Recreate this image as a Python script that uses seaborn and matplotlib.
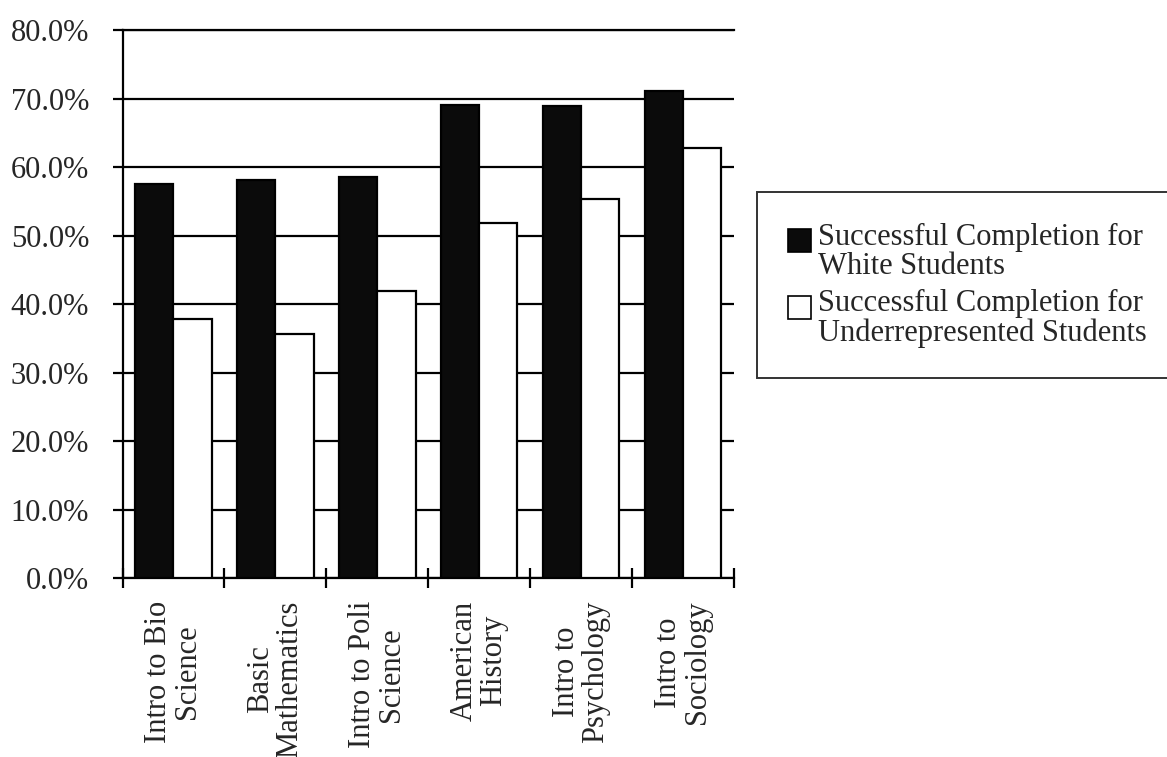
import matplotlib
matplotlib.use("Agg")
import matplotlib.pyplot as plt
import seaborn as sns
import pandas as pd
from matplotlib.patches import Patch, Rectangle
from matplotlib.legend_handler import HandlerPatch
from matplotlib.ticker import FuncFormatter, FixedLocator

# Course completion rates (percent)
courses = [
    "Intro to Bio\nScience",
    "Basic\nMathematics",
    "Intro to Poli\nScience",
    "American\nHistory",
    "Intro to\nPsychology",
    "Intro to\nSociology",
]
white_rates = [57.6, 58.2, 58.6, 69.1, 68.9, 71.2]
under_rates = [37.9, 35.7, 42.0, 51.9, 55.4, 62.8]
series_names = [
    "Successful Completion for\nWhite Students",
    "Successful Completion for\nUnderrepresented Students",
]
y_ticks = [0, 10, 20, 30, 40, 50, 60, 70, 80]

df = pd.DataFrame({
    "course": courses * 2,
    "rate": white_rates + under_rates,
    "group": [series_names[0]] * len(courses) + [series_names[1]] * len(courses),
})

sns.set_style("white")
plt.rcParams["font.family"] = ["Liberation Serif", "DejaVu Serif"]

fig = plt.figure(figsize=(11.67, 7.57), dpi=100)
ax = fig.add_axes([0.105, 0.236, 0.524, 0.724])

sns.barplot(
    data=df, x="course", y="rate", hue="group",
    palette=["#0b0b0b", "white"], saturation=1,
    edgecolor="black", linewidth=1.6, width=0.75,
    ax=ax, zorder=3,
)

ax.set_xlim(-0.5, len(courses) - 0.5)
ax.set_ylim(0, 80)
ax.set_yticks(y_ticks)
ax.yaxis.set_major_formatter(FuncFormatter(lambda v, _: f"{v:.1f}%"))
ax.yaxis.grid(True, color="black", linewidth=1.6)
ax.set_axisbelow(True)

ax.set_xlabel("")
ax.set_ylabel("")

# category labels at centres, boundary ticks crossing the axis
ax.set_xticks(range(len(courses)))
ax.set_xticklabels(courses, rotation=90, fontsize=22, multialignment="center",
                   linespacing=1.0)
ax.xaxis.set_minor_locator(FixedLocator([i - 0.5 for i in range(len(courses) + 1)]))
ax.tick_params(axis="x", which="major", length=0, pad=16)
ax.tick_params(axis="x", which="minor", direction="inout", length=14,
               width=1.6, color="black", bottom=True)
ax.tick_params(axis="y", direction="out", length=7, width=1.6, color="black",
               labelsize=22, pad=17, left=True)

ax.spines["right"].set_visible(False)
for side in ["left", "bottom", "top"]:
    ax.spines[side].set_color("black")
    ax.spines[side].set_linewidth(1.6)


def top_square(legend, orig_handle, xdescent, ydescent, width, height, fontsize):
    # square swatch sitting beside the first line of a two-line label
    s = 0.75 * fontsize
    return Rectangle((-xdescent, -ydescent + height - s), s, s)


leg = ax.legend(
    loc="upper left", bbox_to_anchor=(0.649, 0.7464),
    bbox_transform=fig.transFigure,
    fontsize=22, frameon=True, fancybox=False, edgecolor="black",
    handlelength=0.8, handleheight=2.0, handletextpad=0.2,
    labelspacing=0.28, borderpad=1.0, borderaxespad=0,
    handler_map={Patch: HandlerPatch(patch_func=top_square)},
)
leg.get_frame().set_linewidth(1.4)
for t in leg.get_texts():
    t.set_linespacing(1.0)
for h in leg.legend_handles:
    h.set_edgecolor("black")
    h.set_linewidth(1.2)

fig.savefig("out.png", dpi=100, facecolor="white")
